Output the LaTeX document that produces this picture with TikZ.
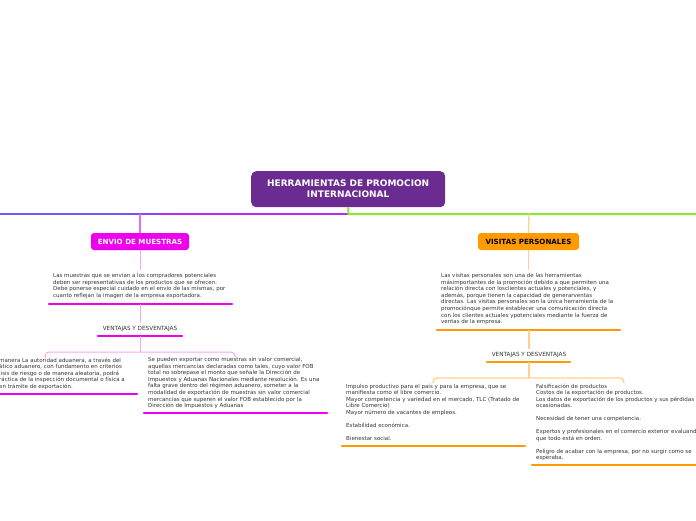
\documentclass[tikz,border=0pt]{standalone}
\usepackage{fontspec}
\setmainfont{DejaVu Sans}
\definecolor{rootpurple}{HTML}{6A2C90}
\definecolor{busblue}{HTML}{6A5CFF}
\definecolor{buspurple}{HTML}{B22CF2}
\definecolor{busgreen}{HTML}{8AE834}
\definecolor{mag}{HTML}{EE00EE}
\definecolor{maglight}{HTML}{F6A6F6}
\definecolor{magmid}{HTML}{E86AF2}
\definecolor{orng}{HTML}{FF9A00}
\definecolor{orlight}{HTML}{FFD28A}
\definecolor{txtgray}{HTML}{333333}
\tikzset{
  rootbox/.style={draw=none, fill=rootpurple, rounded corners=5pt, text=white,
    font=\fontsize{9}{11}\selectfont\bfseries, align=center, inner sep=0pt},
  mainbox/.style={draw=none, rounded corners=3pt, font=\fontsize{7.1}{8}\selectfont\bfseries,
    inner sep=0pt, minimum height=17pt},
  txt/.style={inner sep=0pt, align=left, text=txtgray, font=\fontsize{5.5}{6.55}\selectfont},
  lbl/.style={inner sep=0pt, text=txtgray, font=\fontsize{5.7}{6}\selectfont},
  magul/.style={draw=mag, line width=2.6pt, line cap=round},
  orul/.style={draw=orng, line width=2.6pt, line cap=round},
  magcon/.style={draw=maglight, line width=1pt},
  orcon/.style={draw=orlight, line width=1.3pt},
}
\begin{document}
\begin{tikzpicture}[x=1pt,y=-1pt]
\useasboundingbox (0,0) rectangle (696,520);

% root
\node[rootbox, anchor=north west, minimum width=194pt, minimum height=36pt] (root) at (251,171)
  {HERRAMIENTAS DE PROMOCION\\INTERNACIONAL};

% bus
\coordinate (busL) at (0,214);
\coordinate (busM) at (348.5,214);
\coordinate (busR) at (696,214);
\fill[busblue] (busL) ++(0,-1) rectangle (115,215);
\foreach \i in {0,...,29}{
  \pgfmathsetmacro{\p}{100-\i*100/29}
  \fill[busblue!\p!buspurple] (115+\i*2,213) rectangle (117.2+\i*2,215);
}
\fill[buspurple] (175,213) rectangle (busM |- 0,215);
\draw[busgreen, line width=2pt] (root.south) -- (busM) -- (busR);

% left branch
\coordinate (jL) at (140,214);
\node[mainbox, fill=mag, text=white, minimum width=98pt] (envio) at (140,241.5) {ENVIO DE MUESTRAS};
\draw[magmid, line width=1.2pt] (jL) -- (envio.north);

\node[txt, anchor=north west] (t1) at (53,273.4) {Las muestras que se envian a los compradores potenciales\\deben ser representativas de los productos que se ofrecen.\\Debe ponerse especial cuidado en el envio de las mismas, por\\cuanto reflejan la imagen de la empresa exportadora.};
\draw[magcon] (envio.south) -- (envio.south |- 0,270);
\coordinate (u1a) at (49,304); \coordinate (u1b) at (232,304); \coordinate (u1m) at (140,304);
\draw[magul] (u1a) -- (u1b);

\node[lbl] (v1) at (140,329) {VENTAJAS Y DESVENTAJAS};
\draw[magcon] (u1m) -- ([yshift=3pt]v1.north);
\coordinate (u2a) at (98,336); \coordinate (u2b) at (182,336); \coordinate (u2m) at (140,336);
\draw[magul] (u2a) -- (u2b);
\coordinate (brL) at (140,352);
\draw[magcon] (u2m) -- (brL);
\draw[magcon, rounded corners=4pt] (45,357) -- (45,352) -- (brL) -- (235,352) -- (235,357);

\node[txt, anchor=north west] (lb) at (-1,357.4) {manera La autoridad aduanera, a través del\\ático aduanero, con fundamento en criterios\\lisis de riesgo o de manera aleatoria, podrá\\ráctica de la inspección documental o física a\\en trámite de exportación.};
\draw[magul] (-2,394) -- (137,394);

\node[txt, anchor=north west] (rb) at (148,357.4) {Se pueden exportar como muestras sin valor comercial,\\aquellas mercancías declaradas como tales, cuyo valor FOB\\total no sobrepase el monto que señale la Dirección de\\Impuestos y Aduanas Nacionales mediante resolución. Es una\\falta grave dentro del régimen aduanero, someter a la\\modalidad de exportación de muestras sin valor comercial\\mercancías que superen el valor FOB establecido por la\\Dirección de Impuestos y Aduanas};
\draw[magul] (144,413) -- (327,413);

% right branch
\coordinate (jR) at (529,214);
\node[mainbox, fill=orng, text=black, minimum width=101pt] (visitas) at (528.5,241.5) {VISITAS PERSONALES};
\draw[orcon] (jR) -- (visitas.north);

\node[txt, anchor=north west] (t2) at (441,273.4) {Las visitas personales son una de las herramientas\\másimportantes de la promoción debido a que permiten una\\relación directa con losclientes actuales y potenciales, y\\además, porque tienen la capacidad de generarventas\\directas. Las visitas personales son la única herramienta de la\\promociónque permite establecer una comunicación directa\\con los clientes actuales ypotenciales mediante la fuerza de\\ventas de la empresa.};
\draw[orcon] (visitas.south) -- (visitas.south |- 0,270);
\coordinate (o1a) at (437,330); \coordinate (o1b) at (620,330); \coordinate (o1m) at (529,330);
\draw[orul] (o1a) -- (o1b);

\node[lbl] (v2) at (529,355) {VENTAJAS Y DESVENTAJAS};
\draw[orcon] (o1m) -- ([yshift=3pt]v2.north);
\coordinate (o2a) at (487,362); \coordinate (o2b) at (570,362); \coordinate (o2m) at (529,362);
\draw[orul] (o2a) -- (o2b);
\coordinate (brR) at (529,378);
\draw[orcon] (o2m) -- (brR);
\draw[orcon, rounded corners=4pt] (433,383) -- (433,378) -- (brR) -- (624,378) -- (624,383);

\node[txt, anchor=north west] (ol) at (346,383.4) {Impulso productivo para el país y para la empresa, que se\\manifiesta como el libre comercio.\\Mayor competencia y variedad en el mercado, TLC (Tratado de\\Libre Comercio)\\Mayor número de vacantes de empleos.\\[6.45pt]Estabilidad económica.\\[6.45pt]Bienestar social.};
\draw[orul] (342,446) -- (525,446);

\node[txt, anchor=north west] (or) at (536,383.4) {Falsificación de productos\\Costos de la exportación de productos.\\Los datos de exportación de los productos y sus pérdidas\\ocasionadas.\\[6.45pt]Necesidad de tener una competencia.\\[6.45pt]Expertos y profesionales en el comercio exterior evaluando\\que todo está en orden.\\[6.45pt]Peligro de acabar con la empresa, por no surgir como se\\esperaba.};
\draw[orul] (532,465) -- (698,465);
\end{tikzpicture}
\end{document}
